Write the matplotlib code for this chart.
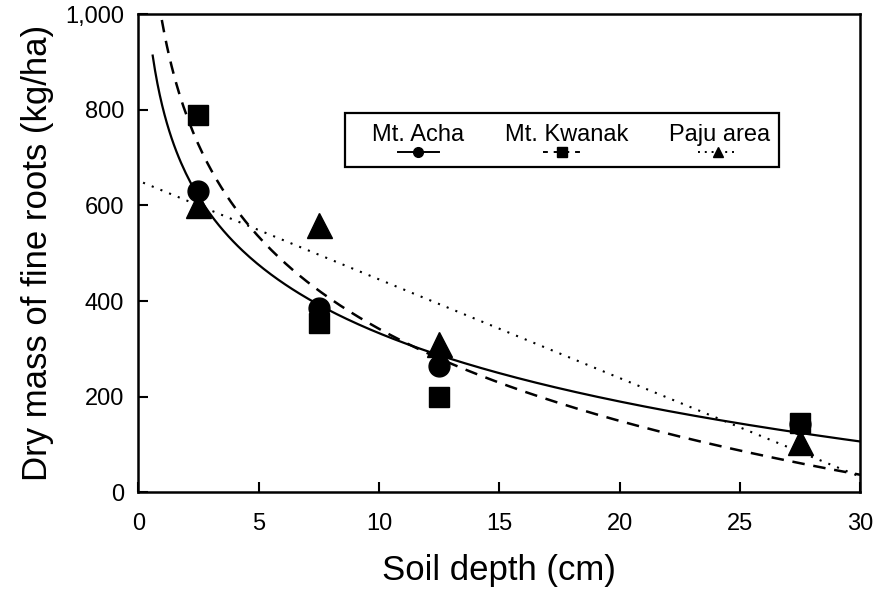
import numpy as np
import matplotlib.pyplot as plt
from matplotlib.patches import Rectangle

plt.rcParams['font.family'] = ['Liberation Sans', 'DejaVu Sans']

# soil depth midpoints (cm)
depth = [2.5, 7.5, 12.5, 27.5]
# dry mass of fine roots (kg/ha)
acha = [630, 385, 265, 142]
kwanak = [790, 355, 200, 145]
paju = [600, 560, 310, 105]

labels = ['Mt. Acha', 'Mt. Kwanak', 'Paju area']
x_ticks = [0, 5, 10, 15, 20, 25, 30]
y_ticks = [0, 200, 400, 600, 800, 1000]
y_ticklabels = ['0', '200', '400', '600', '800', '1,000']

fig = plt.figure(figsize=(8.75, 5.93), dpi=100)
ax = fig.add_axes([0.158, 0.170, 0.825, 0.806])

# trend lines: log fits for the two mountains, linear for Paju
d = np.array(depth)
xa = np.linspace(0.6, 30, 300)
ca = np.polyfit(np.log(d), acha, 1)
ax.plot(xa, np.polyval(ca, np.log(xa)), 'k-', lw=1.6)

xk = np.linspace(0.5, 30, 300)
ck = np.polyfit(np.log(d), kwanak, 1)
ax.plot(xk, np.polyval(ck, np.log(xk)), 'k', lw=1.8, dashes=(5, 3.5))

xp = np.linspace(0.2, 30, 100)
cp = np.polyfit(d, paju, 1)
ax.plot(xp, np.polyval(cp, xp), 'k', lw=1.5, dashes=(1, 3.5))

# observed points
ax.plot(depth, acha, 'ko', ms=15, ls='none')
ax.plot(depth, kwanak, 'ks', ms=15, ls='none')
ax.plot(depth, paju, 'k^', ms=18, ls='none')

ax.set_xlim(0, 30)
ax.set_ylim(0, 1000)
ax.set_xticks(x_ticks)
ax.set_yticks(y_ticks)
ax.set_yticklabels(y_ticklabels)
ax.tick_params(direction='in', length=7, width=1.5, labelsize=17)
ax.tick_params(axis='x', pad=15)
ax.tick_params(axis='y', pad=10)
for s in ax.spines.values():
    s.set_linewidth(1.8)

ax.set_xlabel('Soil depth (cm)', fontsize=25, labelpad=14)
ax.set_ylabel('Dry mass of fine roots (kg/ha)', fontsize=25, labelpad=8)

# hand-made legend: names above, line samples below
T = ax.transAxes
ax.add_patch(Rectangle((0.287, 0.680), 0.600, 0.113, transform=T,
                       fill=False, lw=1.6, ec='k'))
lab_x = [0.388, 0.593, 0.805]
samp_x = [(0.360, 0.416), (0.561, 0.612), (0.775, 0.831)]
styles = [dict(ls='-', marker='o'), dict(ls=(0, (2.5, 3)), marker='s'),
          dict(ls=(0, (1, 2.5)), marker='^')]
for lab, lx, (s0, s1), st in zip(labels, lab_x, samp_x, styles):
    ax.text(lx, 0.748, lab, transform=T, ha='center', va='center', fontsize=17)
    ax.plot([s0, s1], [0.711, 0.711], transform=T, color='k', lw=1.4, ls=st['ls'])
    ax.plot([(s0 + s1) / 2], [0.711], transform=T, color='k',
            marker=st['marker'], ms=7, ls='none')

fig.savefig('out.png', dpi=100)
